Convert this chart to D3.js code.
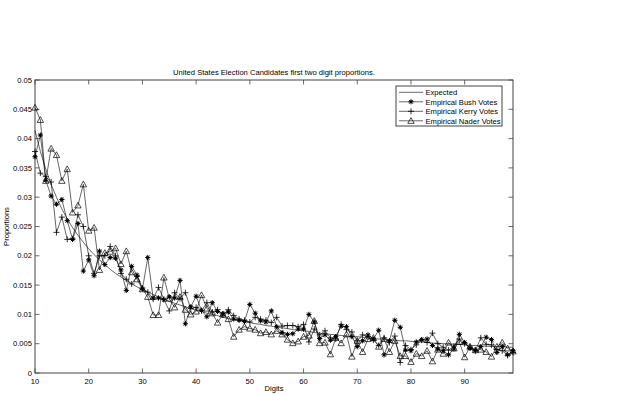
<!DOCTYPE html>
<html>
<head>
<meta charset="utf-8">
<script src="https://cdn.jsdelivr.net/npm/d3@7"></script>
<style>
  body { margin: 0; background: #fff; }
  text { font-family: "Liberation Sans", Arial, sans-serif; fill: #000; }
</style>
</head>
<body>
<svg id="chart" width="625" height="395"></svg>
<script>
// first two digits 10..99
const digits = d3.range(10, 100);

// Benford expected proportions
const expected = [
  .0414, .0378, .0348, .0322, .0300, .0280, .0263, .0248, .0235, .0223,
  .0212, .0202, .0193, .0185, .0177, .0170, .0164, .0158, .0152, .0147,
  .0142, .0138, .0134, .0130, .0126, .0122, .0119, .0116, .0113, .0110,
  .0107, .0105, .0102, .0100, .0098, .0095, .0093, .0091, .0090, .0088,
  .0086, .0084, .0083, .0081, .0080, .0078, .0077, .0076, .0074, .0073,
  .0072, .0071, .0069, .0068, .0067, .0066, .0065, .0064, .0063, .0062,
  .0062, .0061, .0060, .0059, .0058, .0058, .0057, .0056, .0055, .0055,
  .0054, .0053, .0053, .0052, .0051, .0051, .0050, .0050, .0049, .0049,
  .0048, .0047, .0047, .0046, .0046, .0045, .0045, .0045, .0044, .0044
];

const bush = [
  .0369, .0406, .0329, .0302, .0288, .0296, .0260, .0228, .0255, .0174,
  .0193, .0166, .0208, .0185, .0197, .0196, .0176, .0141, .0182, .0167,
  .0143, .0197, .0128, .0128, .0125, .0130, .0128, .0158, .0084, .0113,
  .0131, .0107, .0096, .0120, .0105, .0101, .0104, .0092, .0090, .0088,
  .0117, .0102, .0089, .0087, .0106, .0079, .0069, .0066, .0067, .0075,
  .0075, .0100, .0087, .0059, .0065, .0056, .0062, .0080, .0079, .0062,
  .0045, .0055, .0065, .0058, .0073, .0031, .0055, .0090, .0078, .0039,
  .0038, .0053, .0057, .0058, .0047, .0041, .0038, .0031, .0041, .0066,
  .0052, .0042, .0038, .0045, .0061, .0057, .0035, .0045, .0031, .0038
];

const kerry = [
  .0378, .0341, .0335, .0326, .0240, .0266, .0228, .0229, .0270, .0250,
  .0200, .0170, .0200, .0200, .0216, .0200, .0170, .0160, .0152, .0165,
  .0145, .0138, .0126, .0146, .0126, .0106, .0137, .0127, .0137, .0110,
  .0112, .0106, .0120, .0104, .0108, .0099, .0108, .0098, .0092, .0090,
  .0087, .0095, .0092, .0090, .0086, .0095, .0080, .0081, .0081, .0079,
  .0083, .0053, .0075, .0065, .0072, .0060, .0058, .0083, .0074, .0070,
  .0055, .0065, .0062, .0056, .0047, .0060, .0052, .0063, .0018, .0047,
  .0040, .0048, .0056, .0052, .0068, .0050, .0044, .0039, .0046, .0058,
  .0050, .0044, .0038, .0060, .0049, .0048, .0040, .0038, .0030, .0035
];

const nader = [
  .0453, .0432, .0328, .0383, .0372, .0328, .0348, .0274, .0286, .0322,
  .0243, .0248, .0176, .0205, .0207, .0213, .0186, .0208, .0172, .0160,
  .0143, .0130, .0099, .0099, .0163, .0127, .0112, .0130, .0108, .0100,
  .0105, .0133, .0110, .0102, .0086, .0100, .0092, .0062, .0074, .0079,
  .0076, .0074, .0068, .0070, .0066, .0072, .0066, .0057, .0051, .0054,
  .0062, .0064, .0089, .0051, .0052, .0032, .0060, .0051, .0066, .0028,
  .0055, .0036, .0058, .0060, .0045, .0058, .0036, .0055, .0029, .0029,
  .0019, .0033, .0029, .0038, .0020, .0040, .0033, .0052, .0042, .0053,
  .0027, .0045, .0039, .0040, .0036, .0028, .0045, .0052, .0042, .0037
];

const xTicks = [10, 20, 30, 40, 50, 60, 70, 80, 90];
const yTicks = [0, 0.005, 0.01, 0.015, 0.02, 0.025, 0.03, 0.035, 0.04, 0.045, 0.05];

const series = [
  { name: "Expected", values: expected, marker: null },
  { name: "Empirical Bush Votes", values: bush, marker: "star" },
  { name: "Empirical Kerry Votes", values: kerry, marker: "plus" },
  { name: "Empirical Nader Votes", values: nader, marker: "tri" }
];

const FONT = 7.6;
const svg = d3.select("#chart");
const plotLeft = 35, plotRight = 513, plotTop = 80, plotBottom = 373;

const x = d3.scaleLinear().domain([10, 99]).range([plotLeft, plotRight]);
const y = d3.scaleLinear().domain([0, 0.05]).range([plotBottom, plotTop]);

// draw a marker at (px, py)
function drawMarker(g, type, px, py) {
  if (type === "star") {
    const r = 2.6;
    let d = "";
    for (let k = 0; k < 4; k++) {
      const a = k * Math.PI / 4;
      d += `M${px - r * Math.cos(a)},${py - r * Math.sin(a)}L${px + r * Math.cos(a)},${py + r * Math.sin(a)}`;
    }
    g.append("path").attr("d", d).attr("stroke", "#000").attr("stroke-width", 1);
    g.append("circle").attr("cx", px).attr("cy", py).attr("r", 1.2).attr("fill", "#000");
  } else if (type === "plus") {
    const r = 3;
    g.append("path")
      .attr("d", `M${px - r},${py}L${px + r},${py}M${px},${py - r}L${px},${py + r}`)
      .attr("stroke", "#000").attr("stroke-width", 0.8);
  } else if (type === "tri") {
    const r = 3.2;
    g.append("path")
      .attr("d", `M${px},${py - r}L${px + r},${py + r * 0.8}L${px - r},${py + r * 0.8}Z`)
      .attr("fill", "none").attr("stroke", "#000").attr("stroke-width", 0.7);
  }
}

// axes box with inward ticks on all sides (MATLAB style)
const axG = svg.append("g");
axG.append("rect")
  .attr("x", plotLeft).attr("y", plotTop)
  .attr("width", plotRight - plotLeft).attr("height", plotBottom - plotTop)
  .attr("fill", "none").attr("stroke", "#444").attr("stroke-width", 1);

xTicks.forEach(t => {
  const px = x(t);
  axG.append("line").attr("x1", px).attr("x2", px).attr("y1", plotBottom).attr("y2", plotBottom - 4.5)
    .attr("stroke", "#444").attr("stroke-width", 0.8);
  axG.append("line").attr("x1", px).attr("x2", px).attr("y1", plotTop).attr("y2", plotTop + 4.5)
    .attr("stroke", "#444").attr("stroke-width", 0.8);
  axG.append("text").attr("x", px).attr("y", plotBottom + 10.5)
    .attr("text-anchor", "middle").attr("font-size", FONT).text(t);
});

yTicks.forEach(t => {
  const py = y(t);
  axG.append("line").attr("x1", plotLeft).attr("x2", plotLeft + 4.5).attr("y1", py).attr("y2", py)
    .attr("stroke", "#444").attr("stroke-width", 0.8);
  axG.append("line").attr("x1", plotRight).attr("x2", plotRight - 4.5).attr("y1", py).attr("y2", py)
    .attr("stroke", "#444").attr("stroke-width", 0.8);
  axG.append("text").attr("x", plotLeft - 3).attr("y", py + 2.6)
    .attr("text-anchor", "end").attr("font-size", FONT).text(t === 0 ? "0" : d3.format("~g")(t));
});

// series lines and markers
const line = d3.line().x((d, i) => x(digits[i])).y(d => y(d));
const plotG = svg.append("g");
series.forEach(s => {
  plotG.append("path")
    .datum(s.values)
    .attr("d", line)
    .attr("fill", "none")
    .attr("stroke", "#000")
    .attr("stroke-width", 0.6);
  if (s.marker) {
    const mg = plotG.append("g");
    s.values.forEach((v, i) => drawMarker(mg, s.marker, x(digits[i]), y(v)));
  }
});

// title and axis labels
svg.append("text").attr("x", (plotLeft + plotRight) / 2).attr("y", 75)
  .attr("text-anchor", "middle").attr("font-size", FONT)
  .text("United States Election Candidates first two digit proportions.");
svg.append("text").attr("x", (plotLeft + plotRight) / 2).attr("y", 391)
  .attr("text-anchor", "middle").attr("font-size", FONT).text("Digits");
svg.append("text")
  .attr("transform", `translate(9,${(plotTop + plotBottom) / 2}) rotate(-90)`)
  .attr("text-anchor", "middle").attr("font-size", FONT).text("Proportions");

// legend
const lg = svg.append("g");
const lx = 396, ly = 86, lw = 106, lh = 40;
lg.append("rect").attr("x", lx).attr("y", ly).attr("width", lw).attr("height", lh)
  .attr("fill", "#fff").attr("stroke", "#444").attr("stroke-width", 1);
series.forEach((s, i) => {
  const cy = ly + 6.3 + i * 9.5;
  lg.append("line").attr("x1", lx + 3).attr("x2", lx + 27).attr("y1", cy).attr("y2", cy)
    .attr("stroke", "#000").attr("stroke-width", 0.6);
  if (s.marker) drawMarker(lg, s.marker, lx + 15, cy);
  lg.append("text").attr("x", lx + 29.5).attr("y", cy + 2.8)
    .attr("font-size", FONT).text(s.name);
});
</script>
</body>
</html>
